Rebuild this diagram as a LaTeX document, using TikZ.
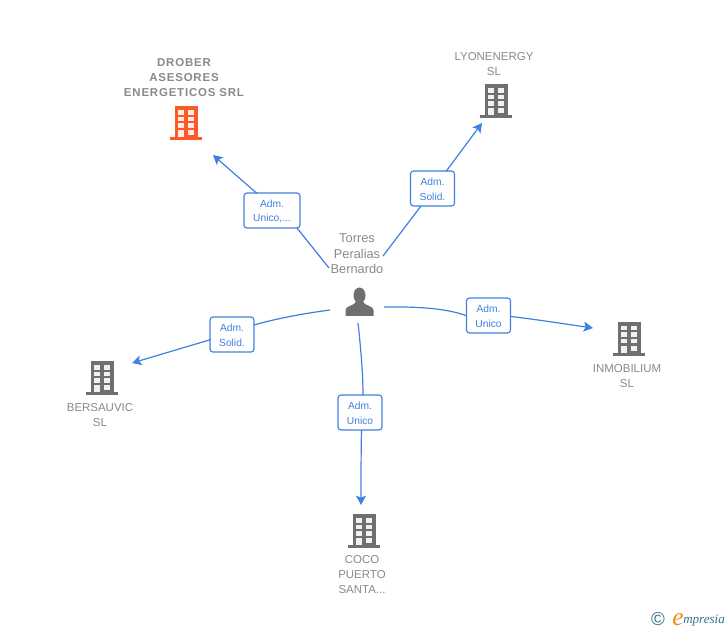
\documentclass[tikz,border=0pt]{standalone}
\usepackage{fontspec}
\setmainfont{Liberation Sans}
\newfontfamily\logofont{Liberation Serif}
\usetikzlibrary{arrows.meta}
\definecolor{linkblue}{HTML}{3F80E0}
\definecolor{txtgray}{HTML}{8A8A8A}
\definecolor{iconorange}{HTML}{FF5A26}
\definecolor{icongray}{HTML}{6F6F6F}
\definecolor{logoteal}{HTML}{2F7390}
\definecolor{logoorange}{HTML}{F08A1D}
\newcommand{\firstline}{\rule{0pt}{7pt}}
\tikzset{
  x=0.75pt,y=-0.75pt,
  linkbox/.style={draw=linkblue,line width=0.85pt,rounded corners=2.2pt,fill=white,text=linkblue,
    minimum height=26.25pt,inner sep=0pt,align=center,font=\fontsize{7.7}{11.2}\selectfont},
  entity/.style={text=txtgray,align=center,font=\fontsize{8.6}{11.25}\selectfont\bfseries\addfontfeature{LetterSpace=7},inner sep=0pt},
  entitylight/.style={text=txtgray,align=center,font=\fontsize{8.6}{11.25}\selectfont,inner sep=0pt},
  conn/.style={draw=linkblue,line width=0.9pt},
  arrowconn/.style={conn,-{Stealth[length=7pt,width=7.5pt,inset=1.5pt]}},
  building/.style={minimum width=24pt,minimum height=25.5pt,inner sep=0pt,
    path picture={
      \begin{scope}[shift={(path picture bounding box.center)}]
        \fill[#1] (-11.5,-17) rectangle (11.5,14);
        \fill[#1] (-16,14) rectangle (16,17);
        \foreach \wy in {-13,-6.5,0}{
          \fill[white,opacity=0.9] (-8,\wy) rectangle (-2.5,\wy+4.5);
          \fill[white,opacity=0.9] (2,\wy) rectangle (7.5,\wy+4.5);
        }
        \fill[white,opacity=0.9] (2,7) rectangle (7.5,12);
        \fill[white,opacity=0.9] (-8,7) rectangle (-2.5,14);
      \end{scope}
    }},
  personicon/.style={minimum width=21pt,minimum height=21.75pt,inner sep=0pt,
    path picture={
      \begin{scope}[shift={(path picture bounding box.center)}]
        \fill[icongray] (0,-6.5) ellipse (6 and 8);
        \fill[icongray] (-14,14) -- (-14,8) .. controls (-14,4) and (-6,4) .. (-3.5,0)
          -- (3.5,0) .. controls (6,4) and (14,4) .. (14,8) -- (14,14) -- cycle;
      \end{scope}
    }}
}
\begin{document}
\begin{tikzpicture}
\useasboundingbox (0,0) rectangle (728,630);
\fill[white] (0,0) rectangle (728,630);

% entities
\node[building=iconorange] (drober) at (186,123.5) {};
\node[entity] (droberT) at (184,78) {DROBER\\ASESORES\\ENERGETICOS SRL};
\node[building=icongray] (lyon) at (496,101.5) {};
\node[entitylight] (lyonT) at (494,64) {LYONENERGY\\SL};
\node[building=icongray] (inmo) at (629,339) {};
\node[entitylight] (inmoT) at (627,376) {INMOBILIUM\\SL};
\node[building=icongray] (bers) at (102,378.5) {};
\node[entitylight] (bersT) at (100,415) {BERSAUVIC\\SL};
\node[building=icongray] (coco) at (364,531) {};
\node[entitylight] (cocoT) at (362,575) {COCO\\PUERTO\\SANTA...};

% person
\node[personicon] (person) at (359.5,302) {};
\node[text=txtgray,align=center,font=\fontsize{9.6}{11.6}\selectfont,inner sep=0pt] (personT) at (357,254) {Torres\\Peralias\\Bernardo};

% link labels
\node[linkbox,minimum width=42pt] (l1) at (272,210.5) {\firstline Adm.\\Unico,...};
\node[linkbox,minimum width=33pt] (l2) at (432.5,188.5) {\firstline Adm.\\Solid.};
\node[linkbox,minimum width=33pt] (l3) at (488.5,315.5) {\firstline Adm.\\Unico};
\node[linkbox,minimum width=33pt] (l4) at (360,412.5) {\firstline Adm.\\Unico};
\node[linkbox,minimum width=33pt] (l5) at (232,334.5) {\firstline Adm.\\Solid.};

% free ends
\coordinate (s1) at (329,268);
\coordinate (s2) at (383,256);
\coordinate (s3) at (384,307);
\coordinate (s4) at (358,323);
\coordinate (s5) at (330,310);
\coordinate (t1) at (213,155);
\coordinate (t2) at (482,123);
\coordinate (t3) at (593,328);
\coordinate (t4) at (361,505);
\coordinate (t5) at (132,363);

% connectors
\draw[conn] (s1) -- (297,228) coordinate (a1);
\draw[arrowconn] (257,193.5) -- (t1);
\draw[conn] (s2) -- (421,206);
\draw[arrowconn] (446,171.5) -- (t2);
\draw[conn] (s3) .. controls (415,306.5) and (445,308) .. (l3.west);
\draw[arrowconn] (l3.east) ++(0,1) .. controls (540,320) and (565,324) .. (t3);
\draw[conn] (s4) .. controls (361,350) and (363,375) .. (363,395);
\draw[arrowconn] (361.5,430) .. controls (361,455) and (361,480) .. (t4);
\draw[conn] (s5) .. controls (300,314) and (275,319) .. (254,325);
\draw[arrowconn] (211,339.5) -- (t5);

% logo
\node[inner sep=0pt,text=logoteal,font=\fontsize{14}{14}\selectfont] (copy) at (658,619) {\textcopyright};
\node[inner sep=0pt,text=logoteal,anchor=base west,font=\logofont\fontsize{9.8}{12}\selectfont\itshape] (mpr) at (683,623) {mpresia};
\node[inner sep=0pt,text=logoorange,anchor=base east,font=\logofont\fontsize{19}{19}\selectfont\itshape] (elogo) at (684,625) {e};
\end{tikzpicture}
\end{document}
